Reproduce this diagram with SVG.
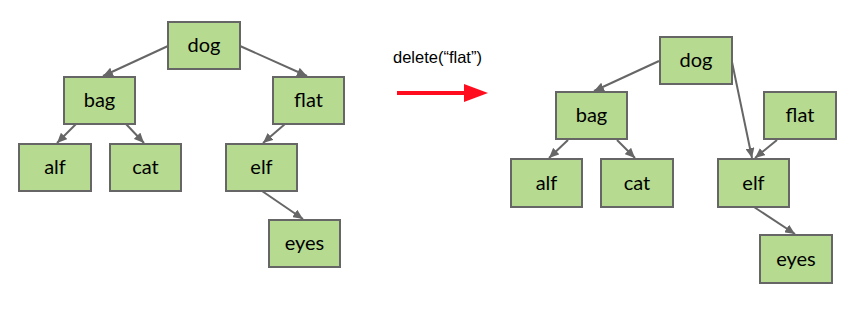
<svg xmlns="http://www.w3.org/2000/svg" width="868" height="318" viewBox="0 0 868 318">
  <style>
    .box { fill: #b5da90; stroke: #666666; stroke-width: 2; }
    .lbl { font-family: Lato, "Open Sans", sans-serif; font-size: 20px; fill: #000000; text-anchor: middle; }
    .edge { fill: none; stroke: #666666; stroke-width: 2; marker-end: url(#head); }
    .cap { font-family: "Liberation Sans", Arial, sans-serif; font-size: 16.5px; fill: #000000; }
  </style>
  <defs>
    <marker id="head" markerUnits="userSpaceOnUse" markerWidth="10" markerHeight="9" refX="10" refY="4.5" orient="auto">
      <path d="M0,0 L10,4.5 L0,9 z" fill="#666666"/>
    </marker>
  </defs>
  <rect width="868" height="318" fill="#ffffff"/>

  <!-- tree before deletion -->
  <g id="connectors-before">
    <path class="edge" d="M168,46 L103,76"/>
    <path class="edge" d="M240,46 L307,76"/>
    <path class="edge" d="M76,124 L57,143"/>
    <path class="edge" d="M126,124 L144,143"/>
    <path class="edge" d="M285,124 L263,143"/>
    <path class="edge" d="M262,191 L303,219"/>
  </g>
  <g id="dog-1"><rect class="box" x="168" y="22" width="72" height="47"/><text class="lbl" x="204" y="52">dog</text></g>
  <g id="bag-1"><rect class="box" x="64" y="77" width="71" height="47"/><text class="lbl" x="99.5" y="107">bag</text></g>
  <g id="flat-1"><rect class="box" x="273" y="77" width="71" height="47"/><text class="lbl" x="308.5" y="107">flat</text></g>
  <g id="alf-1"><rect class="box" x="19" y="144" width="72" height="47"/><text class="lbl" x="55" y="174">alf</text></g>
  <g id="cat-1"><rect class="box" x="110" y="144" width="71" height="47"/><text class="lbl" x="145.5" y="174">cat</text></g>
  <g id="elf-1"><rect class="box" x="226" y="144" width="71" height="47"/><text class="lbl" x="261.5" y="174">elf</text></g>
  <g id="eyes-1"><rect class="box" x="269" y="220" width="71" height="47"/><text class="lbl" x="304.5" y="250">eyes</text></g>

  <!-- operation -->
  <g id="operation">
    <text class="cap" x="393" y="62.5">delete(“flat”)</text>
    <line x1="397" y1="93" x2="466" y2="93" stroke="#ff0d1f" stroke-width="4"/>
    <path d="M464,84 L488,93 L464,102 z" fill="#ff0d1f"/>
  </g>

  <!-- tree after deletion -->
  <g id="connectors-after">
    <path class="edge" d="M659,61 L594,91"/>
    <path class="edge" d="M732,62 L752,158"/>
    <path class="edge" d="M777,140 L755,158"/>
    <path class="edge" d="M568,140 L549,158"/>
    <path class="edge" d="M617,140 L635,158"/>
    <path class="edge" d="M754,207 L795,234"/>
  </g>
  <g id="dog-2"><rect class="box" x="660" y="37" width="72" height="47"/><text class="lbl" x="696" y="67">dog</text></g>
  <g id="bag-2"><rect class="box" x="556" y="92" width="71" height="47"/><text class="lbl" x="591.5" y="122">bag</text></g>
  <g id="flat-2"><rect class="box" x="764" y="92" width="72" height="47"/><text class="lbl" x="800" y="122">flat</text></g>
  <g id="alf-2"><rect class="box" x="511" y="159" width="71" height="48"/><text class="lbl" x="546.5" y="190">alf</text></g>
  <g id="cat-2"><rect class="box" x="601" y="159" width="72" height="48"/><text class="lbl" x="637" y="190">cat</text></g>
  <g id="elf-2"><rect class="box" x="718" y="159" width="71" height="48"/><text class="lbl" x="753.5" y="190">elf</text></g>
  <g id="eyes-2"><rect class="box" x="760" y="235" width="72" height="48"/><text class="lbl" x="796" y="266">eyes</text></g>
</svg>
